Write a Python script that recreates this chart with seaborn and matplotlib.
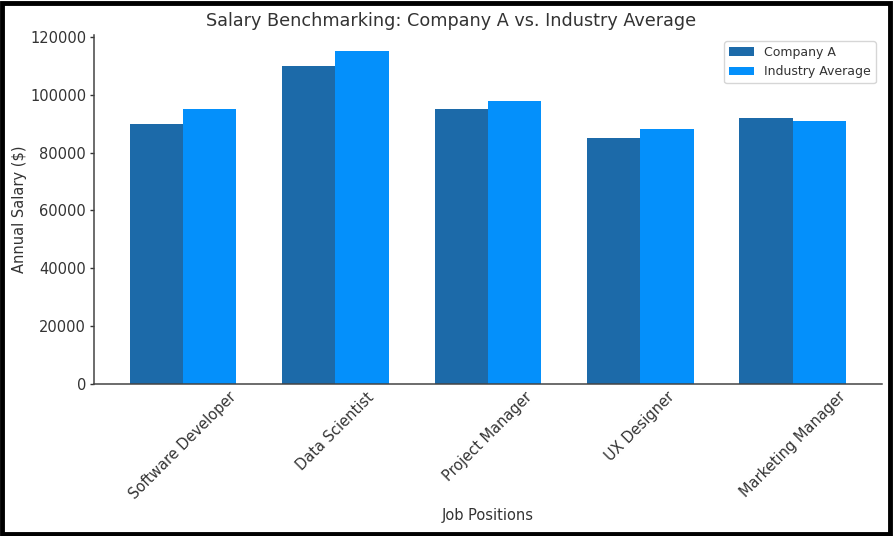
import matplotlib
matplotlib.use("Agg")
import matplotlib.pyplot as plt
import seaborn as sns
import pandas as pd
from matplotlib.patches import Rectangle

positions = ["Software Developer", "Data Scientist", "Project Manager", "UX Designer", "Marketing Manager"]
company_a = [90000, 110000, 95000, 85000, 92000]
industry_avg = [95000, 115000, 98000, 88000, 91000]
series_names = ["Company A", "Industry Average"]
colors = ["#1c6aa9", "#0490fb"]

df = pd.DataFrame({
    "Job Positions": positions * 2,
    "Salary": company_a + industry_avg,
    "Series": [series_names[0]] * len(positions) + [series_names[1]] * len(positions),
})

sns.set_style("ticks")
plt.rcParams["font.family"] = ["DejaVu Sans"]

fig = plt.figure(figsize=(8.94, 5.36), dpi=100)
ax = fig.add_axes([0.105, 0.284, 0.8816, 0.651])

sns.barplot(data=df, x="Job Positions", y="Salary", hue="Series",
            palette=colors, saturation=1, width=0.7, linewidth=0, ax=ax, errorbar=None)

ax.set_xlim(-0.585, 4.585)
ax.set_ylim(0, 120750)
ax.set_yticks([0, 20000, 40000, 60000, 80000, 100000, 120000])
ax.set_yticklabels(["0", "20000", "40000", "60000", "80000", "100000", "120000"])
ax.tick_params(axis="both", labelsize=10.5, colors="#333333")
ax.tick_params(axis="y", length=3, pad=2.5, width=1)
ax.tick_params(axis="x", length=0, pad=4)
plt.setp(ax.get_xticklabels(), rotation=45, ha="center")
ax.set_xlabel("Job Positions", fontsize=10.5, color="#333333")
ax.set_ylabel("Annual Salary ($)", fontsize=10.5, color="#333333", labelpad=2)
fig.text(0.5045, 0.961, "Salary Benchmarking: Company A vs. Industry Average",
         fontsize=12.7, color="#333333", ha="center", va="center")
sns.despine(ax=ax)
for s in ["left", "bottom"]:
    ax.spines[s].set_color("#444444")
    ax.spines[s].set_linewidth(1.1)

leg = ax.legend(loc="upper right", fontsize=9, frameon=True)
leg.set_title(None)
for t in leg.get_texts():
    t.set_color("#333333")

fig.patches.append(Rectangle((0.002, 0.004), 0.993, 0.991, transform=fig.transFigure,
                             fill=False, edgecolor="black", linewidth=3.5))

fig.savefig("out.png", dpi=100)
